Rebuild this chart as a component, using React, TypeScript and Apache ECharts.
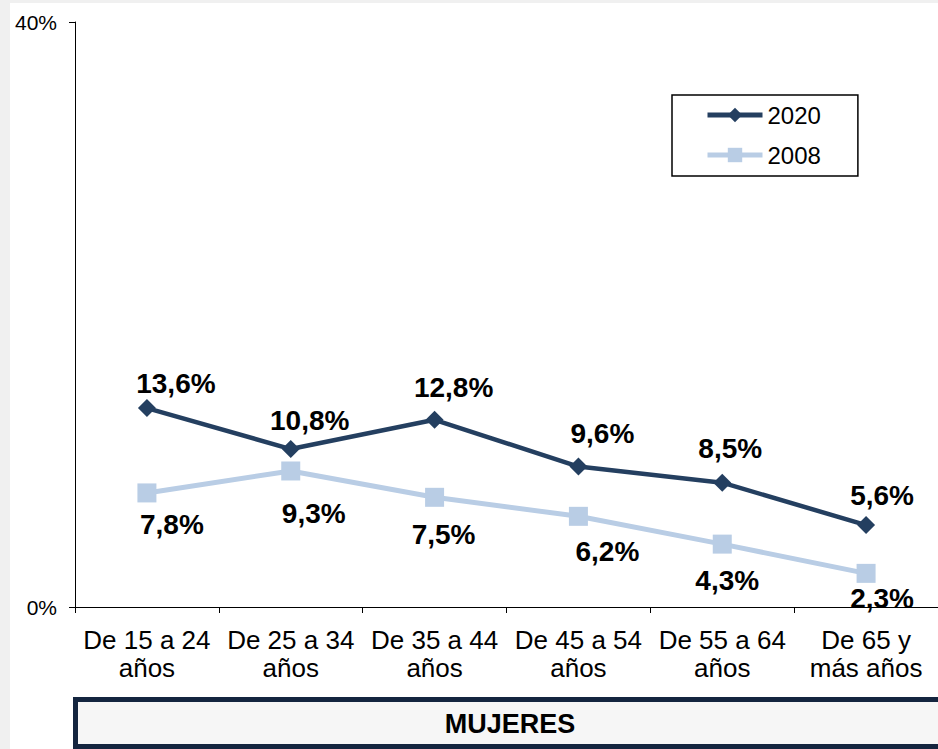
import React, { useEffect, useRef } from "react";
import * as echarts from "echarts";

const categories = [
  "De 15 a 24\naños",
  "De 25 a 34\naños",
  "De 35 a 44\naños",
  "De 45 a 54\naños",
  "De 55 a 64\naños",
  "De 65 y\nmás años",
];
const values2020 = [13.6, 10.8, 12.8, 9.6, 8.5, 5.6];
const values2008 = [7.8, 9.3, 7.5, 6.2, 4.3, 2.3];
const yTickLabels = ["0%", "40%"];

// label offsets (pixels) relative to each point, as placed in the original
const labelOffsets2020 = [
  [29, -25], [19, -29], [19, -32], [24, -33], [8, -34], [16, -30],
];
const labelOffsets2008 = [
  [25, 32], [23, 43], [9, 37], [29, 35], [5, 36], [16, 25],
];

const fmt = (v: number) => v.toFixed(1).replace(".", ",") + "%";
const FONT = "'Liberation Sans', Arial, sans-serif";

export default function App() {
  const ref = useRef<HTMLDivElement>(null);
  useEffect(() => {
    if (!ref.current) return;
    const chart = echarts.init(ref.current, null, { renderer: "svg" });
    const labelStyle = {
      show: true,
      position: "inside" as const,
      fontFamily: FONT,
      fontSize: 28,
      fontWeight: "bold" as const,
      color: "#000",
      formatter: (p: any) => fmt(p.value),
    };
    chart.setOption({
      animation: false,
      backgroundColor: "transparent",
      textStyle: { fontFamily: FONT },
      graphic: [
        {
          type: "rect",
          z: -10,
          shape: { x: 10, y: 3, width: 928, height: 746 },
          style: { fill: "#ffffff" },
        },
        {
          type: "rect",
          z: 10,
          shape: { x: 75.5, y: 699.5, width: 880, height: 47 },
          style: { fill: "#f6f6f6", stroke: "#14253f", lineWidth: 5 },
        },
        {
          type: "text",
          z: 11,
          x: 510,
          y: 724,
          style: {
            text: "MUJERES",
            fontFamily: FONT,
            fontSize: 27,
            fontWeight: "bold",
            fill: "#000",
            align: "center",
            verticalAlign: "middle",
          },
        },
      ],
      legend: {
        left: 672,
        top: 95,
        orient: "vertical",
        padding: [8, 37, 9, 33],
        itemGap: 16,
        itemWidth: 55,
        itemHeight: 18,
        borderColor: "#000",
        borderWidth: 1.5,
        backgroundColor: "#fff",
        textStyle: { fontFamily: FONT, fontSize: 24, lineHeight: 24, color: "#000" },
        data: [
          { name: "2020", lineStyle: { width: 5 } },
          { name: "2008", lineStyle: { width: 5 } },
        ],
      },
      grid: { left: 75, top: 22, right: -2, bottom: 142, containLabel: false },
      xAxis: {
        type: "category",
        data: categories,
        boundaryGap: true,
        axisLine: { show: true, lineStyle: { color: "#000", width: 1 } },
        axisTick: { show: true, length: 6, lineStyle: { color: "#000" } },
        axisLabel: {
          interval: 0,
          margin: 19,
          fontFamily: FONT,
          fontSize: 26,
          lineHeight: 28,
          color: "#000",
        },
      },
      yAxis: {
        type: "value",
        min: 0,
        max: 40,
        interval: 40,
        splitLine: { show: false },
        axisLine: { show: true, lineStyle: { color: "#000", width: 1 } },
        axisTick: { show: true, length: 6, lineStyle: { color: "#000" } },
        axisLabel: {
          margin: 18,
          fontFamily: FONT,
          fontSize: 21,
          color: "#000",
          formatter: (v: number) => (v === 0 ? yTickLabels[0] : yTickLabels[1]),
        },
      },
      series: [
        {
          name: "2020",
          type: "line",
          symbol: "diamond",
          symbolSize: 18,
          lineStyle: { color: "#243f60", width: 4.5 },
          itemStyle: { color: "#243f60" },
          z: 3,
          data: values2020.map((v, i) => ({
            value: v,
            label: { ...labelStyle, offset: labelOffsets2020[i] },
          })),
        },
        {
          name: "2008",
          type: "line",
          symbol: "rect",
          symbolSize: 19,
          lineStyle: { color: "#b9cde5", width: 5 },
          itemStyle: { color: "#b9cde5" },
          z: 2,
          data: values2008.map((v, i) => ({
            value: v,
            label: { ...labelStyle, offset: labelOffsets2008[i] },
          })),
        },
      ],
    });
    return () => chart.dispose();
  }, []);
  return (
    <div
      style={{
        position: "fixed",
        left: 0,
        top: 0,
        width: 938,
        height: 749,
        background: "#f0f0f0",
      }}
    >
      <div ref={ref} style={{ width: 938, height: 749 }} />
    </div>
  );
}
